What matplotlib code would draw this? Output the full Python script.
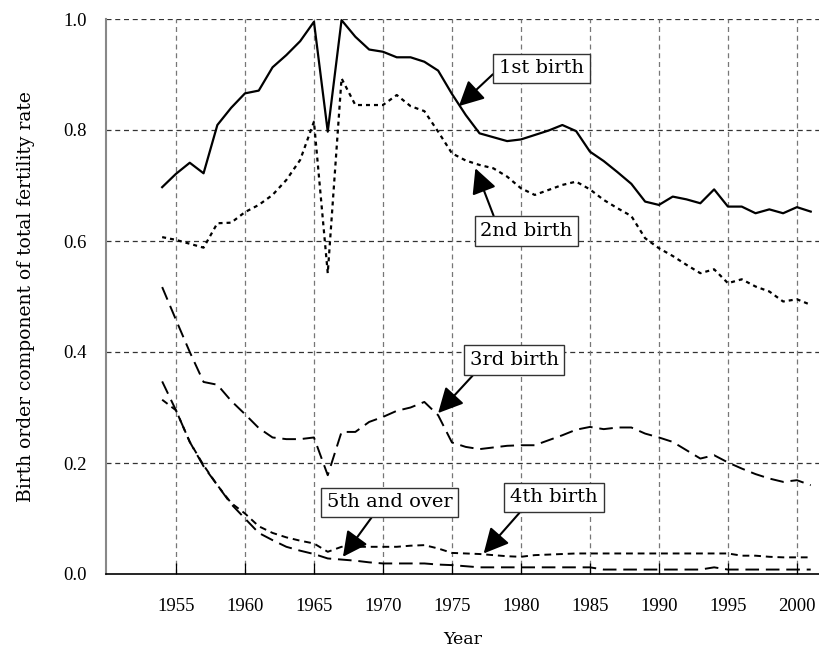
import matplotlib
matplotlib.use("Agg")
import matplotlib.pyplot as plt
import numpy as np

years = list(range(1954, 2002))

first = [0.697, 0.721, 0.741, 0.722, 0.809, 0.840, 0.866, 0.871, 0.913, 0.935,
         0.960, 0.995, 0.797, 0.998, 0.968, 0.945, 0.941, 0.931, 0.931, 0.923,
         0.907, 0.865, 0.827, 0.794, 0.787, 0.780, 0.783, 0.791, 0.799, 0.809,
         0.798, 0.761, 0.744, 0.724, 0.703, 0.671, 0.665, 0.680, 0.675, 0.668,
         0.693, 0.662, 0.662, 0.650, 0.657, 0.650, 0.661, 0.653]

second = [0.607, 0.602, 0.595, 0.588, 0.632, 0.633, 0.652, 0.665, 0.683, 0.710,
          0.746, 0.815, 0.542, 0.893, 0.845, 0.845, 0.845, 0.863, 0.843, 0.834,
          0.797, 0.758, 0.745, 0.737, 0.731, 0.716, 0.695, 0.683, 0.692, 0.701,
          0.707, 0.693, 0.674, 0.659, 0.645, 0.605, 0.587, 0.573, 0.557, 0.542,
          0.549, 0.524, 0.531, 0.518, 0.509, 0.491, 0.495, 0.485]

third = [0.517, 0.458, 0.400, 0.346, 0.341, 0.312, 0.288, 0.263, 0.246, 0.243,
         0.243, 0.246, 0.178, 0.256, 0.256, 0.274, 0.283, 0.294, 0.300, 0.310,
         0.286, 0.237, 0.229, 0.225, 0.228, 0.231, 0.232, 0.232, 0.241, 0.250,
         0.260, 0.265, 0.261, 0.264, 0.264, 0.253, 0.246, 0.238, 0.223, 0.208,
         0.214, 0.201, 0.190, 0.180, 0.172, 0.166, 0.169, 0.160]

fourth = [0.314, 0.295, 0.238, 0.196, 0.160, 0.128, 0.109, 0.086, 0.074, 0.066,
          0.060, 0.055, 0.040, 0.049, 0.049, 0.049, 0.049, 0.049, 0.051, 0.052,
          0.046, 0.038, 0.037, 0.036, 0.034, 0.032, 0.031, 0.034, 0.035, 0.036,
          0.037, 0.037, 0.037, 0.037, 0.037, 0.037, 0.037, 0.037, 0.037, 0.037,
          0.037, 0.037, 0.033, 0.033, 0.031, 0.030, 0.030, 0.030]

fifth = [0.347, 0.295, 0.238, 0.194, 0.160, 0.126, 0.100, 0.074, 0.061, 0.049,
         0.042, 0.036, 0.028, 0.026, 0.024, 0.021, 0.019, 0.019, 0.019, 0.019,
         0.017, 0.016, 0.014, 0.012, 0.012, 0.012, 0.012, 0.012, 0.012, 0.012,
         0.012, 0.012, 0.008, 0.008, 0.008, 0.008, 0.008, 0.008, 0.008, 0.008,
         0.012, 0.008, 0.008, 0.008, 0.008, 0.008, 0.008, 0.008]

xticks = [1955, 1960, 1965, 1970, 1975, 1980, 1985, 1990, 1995, 2000]
yticks = [0.0, 0.2, 0.4, 0.6, 0.8, 1.0]

labels = ["1st birth", "2nd birth", "3rd birth", "4th birth", "5th and over"]
label_pos = [(1981.5, 0.911), (1980.4, 0.618), (1979.5, 0.385), (1982.4, 0.138), (1970.5, 0.129)]
arrow_tip = [(1975.5, 0.843), (1976.7, 0.731), (1974.0, 0.290), (1977.3, 0.037), (1967.1, 0.031)]
arrow_rel = [(0.0, 0.5), (0.17, 1.0), (0.1, 0.0), (0.17, 0.0), (0.39, 0.0)]

serif = "DejaVu Serif"
tickfont = "Liberation Serif"

fig = plt.figure(figsize=(8.19, 6.5), dpi=100)
ax = fig.add_axes([106 / 819, 76 / 650, 713 / 819, 555 / 650])

ax.plot(years, first, color="black", lw=1.6, ls="-", zorder=3)
ax.plot(years, second, color="black", lw=1.6, ls=(0, (1.8, 1.8)), zorder=3)
ax.plot(years, third, color="black", lw=1.4, ls=(0, (7, 3.5)), zorder=3)
ax.plot(years, fourth, color="black", lw=1.4, ls=(0, (3.5, 2.5)), zorder=3)
ax.plot(years, fifth, color="black", lw=1.4, ls=(0, (7, 3.5)), zorder=3)

ax.set_xlim(1949.93, 2001.6)
ax.set_ylim(0, 1.0)
ax.set_xticks(xticks)
ax.set_yticks(yticks)
ax.set_yticklabels([f"{v:.1f}" for v in yticks])

for yv in yticks[1:]:
    ax.axhline(yv, color="#333333", lw=0.9, ls=(0, (4, 3)), zorder=1)
for xv in xticks:
    ax.axvline(xv, color="#777777", lw=0.9, ls=(0, (4, 3)), zorder=1)

for s in ["top", "right"]:
    ax.spines[s].set_visible(False)
ax.spines["left"].set_color("#888888")
ax.spines["left"].set_linewidth(1.5)
ax.spines["bottom"].set_color("black")
ax.spines["bottom"].set_linewidth(1.2)

ax.tick_params(axis="x", direction="in", length=8, width=0.9, pad=17,
               labelsize=13.5)
ax.tick_params(axis="y", length=0, pad=14, labelsize=13.5)
for t in ax.get_xticklabels() + ax.get_yticklabels():
    t.set_fontfamily(tickfont)

ax.set_xlabel("Year", fontfamily=serif, fontsize=12.5, labelpad=12)
ax.set_ylabel("Birth order component of total fertility rate",
              fontfamily=serif, fontsize=13.5, labelpad=20)

for lab, pos, tip, rel in zip(labels, label_pos, arrow_tip, arrow_rel):
    ax.annotate(lab, xy=tip, xytext=pos, textcoords="data",
                ha="center", va="center", fontsize=14, fontfamily=serif,
                bbox=dict(boxstyle="square,pad=0.3", fc="white", ec="#333333", lw=1.0),
                arrowprops=dict(arrowstyle="-|>,head_length=0.95,head_width=0.48",
                                mutation_scale=16, color="black", lw=1.5,
                                shrinkA=0, shrinkB=0, relpos=rel),
                zorder=5)

fig.savefig("out.png", dpi=100)
